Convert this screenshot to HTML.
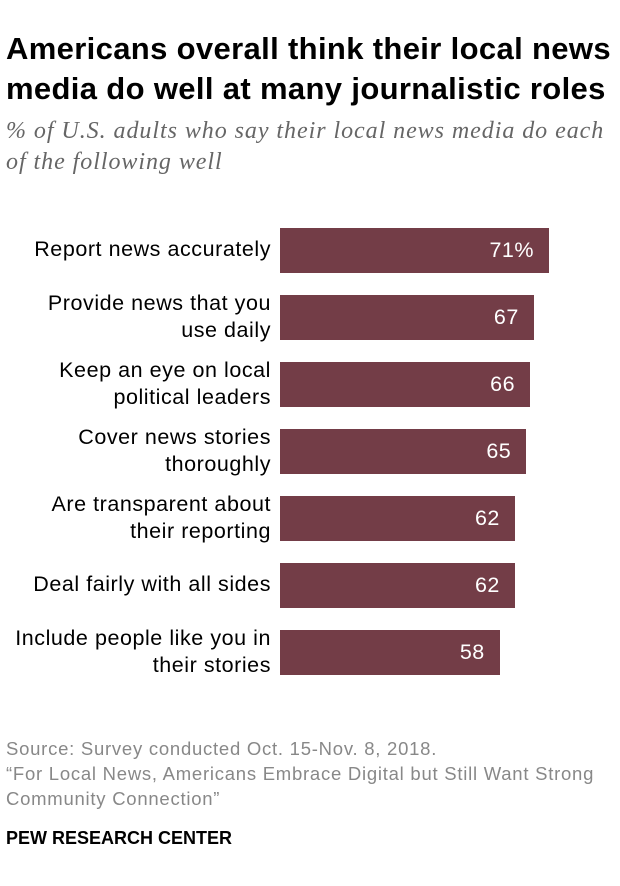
<!DOCTYPE html>
<html><head><meta charset="utf-8"><style>
body{margin:0;background:#fff;width:620px;height:886px;overflow:hidden;font-family:"Liberation Sans",sans-serif;position:relative}
.t{position:absolute;left:6px;top:29px;font-size:31px;font-weight:bold;line-height:40px;color:#000;letter-spacing:0.35px;white-space:nowrap}
.s{position:absolute;left:6px;top:116px;font-family:"Liberation Serif",serif;font-style:italic;font-size:24px;line-height:31px;color:#666;white-space:nowrap;letter-spacing:0.95px}
.lab{position:absolute;right:349px;text-align:right;font-size:21.5px;line-height:27px;color:#000;white-space:nowrap;letter-spacing:0.55px}
.bar{position:absolute;background:#733d47}
.val{position:absolute;color:#fff;font-size:21.5px;text-align:right;letter-spacing:0.5px}
.f{position:absolute;left:6px;font-size:18.5px;line-height:25px;color:#888;white-space:nowrap;letter-spacing:0.75px}
</style></head><body>
<div class="t">Americans overall think their local news<br>media do well at many journalistic roles</div>
<div class="s">% of U.S. adults who say their local news media do each<br>of the following well</div>
<div id="chart"></div>
<div class="f" style="top:736px">Source: Survey conducted Oct. 15-Nov. 8, 2018.<br>“For Local News, Americans Embrace Digital but Still Want Strong<br>Community Connection”</div>
<div style="position:absolute;left:6px;top:828px;font-size:18px;font-weight:bold;color:#000">PEW RESEARCH CENTER</div>
<script>
const categories=["Report news accurately","Provide news that you<br>use daily","Keep an eye on local<br>political leaders","Cover news stories<br>thoroughly","Are transparent about<br>their reporting","Deal fairly with all sides","Include people like you in<br>their stories"];
const values=[71,67,66,65,62,62,58];
const valueLabels=["71%","67","66","65","62","62","58"];
const x0=280,scale=269/71,y0=228,step=67,h=45;
const c=document.getElementById('chart');
values.forEach((v,i)=>{
 const y=y0+i*step;
 const b=document.createElement('div');b.className='bar';
 
 
 const w=v*scale;
 b.style.cssText=`left:${x0}px;top:${y}px;width:${w}px;height:${h}px`;
 c.appendChild(b);
 const t=document.createElement('div');t.className='val';
 
 
 t.style.cssText=`left:${x0}px;width:${w-15}px;top:${y+10}px`;
 t.textContent=valueLabels[i];c.appendChild(t);
 const l=document.createElement('div');l.className='lab';
 
 
 const two=categories[i].includes('<br>');
 l.style.top=(y+(two?-5:8))+'px';
 l.innerHTML=categories[i];c.appendChild(l);
});
</script>
</body></html>
